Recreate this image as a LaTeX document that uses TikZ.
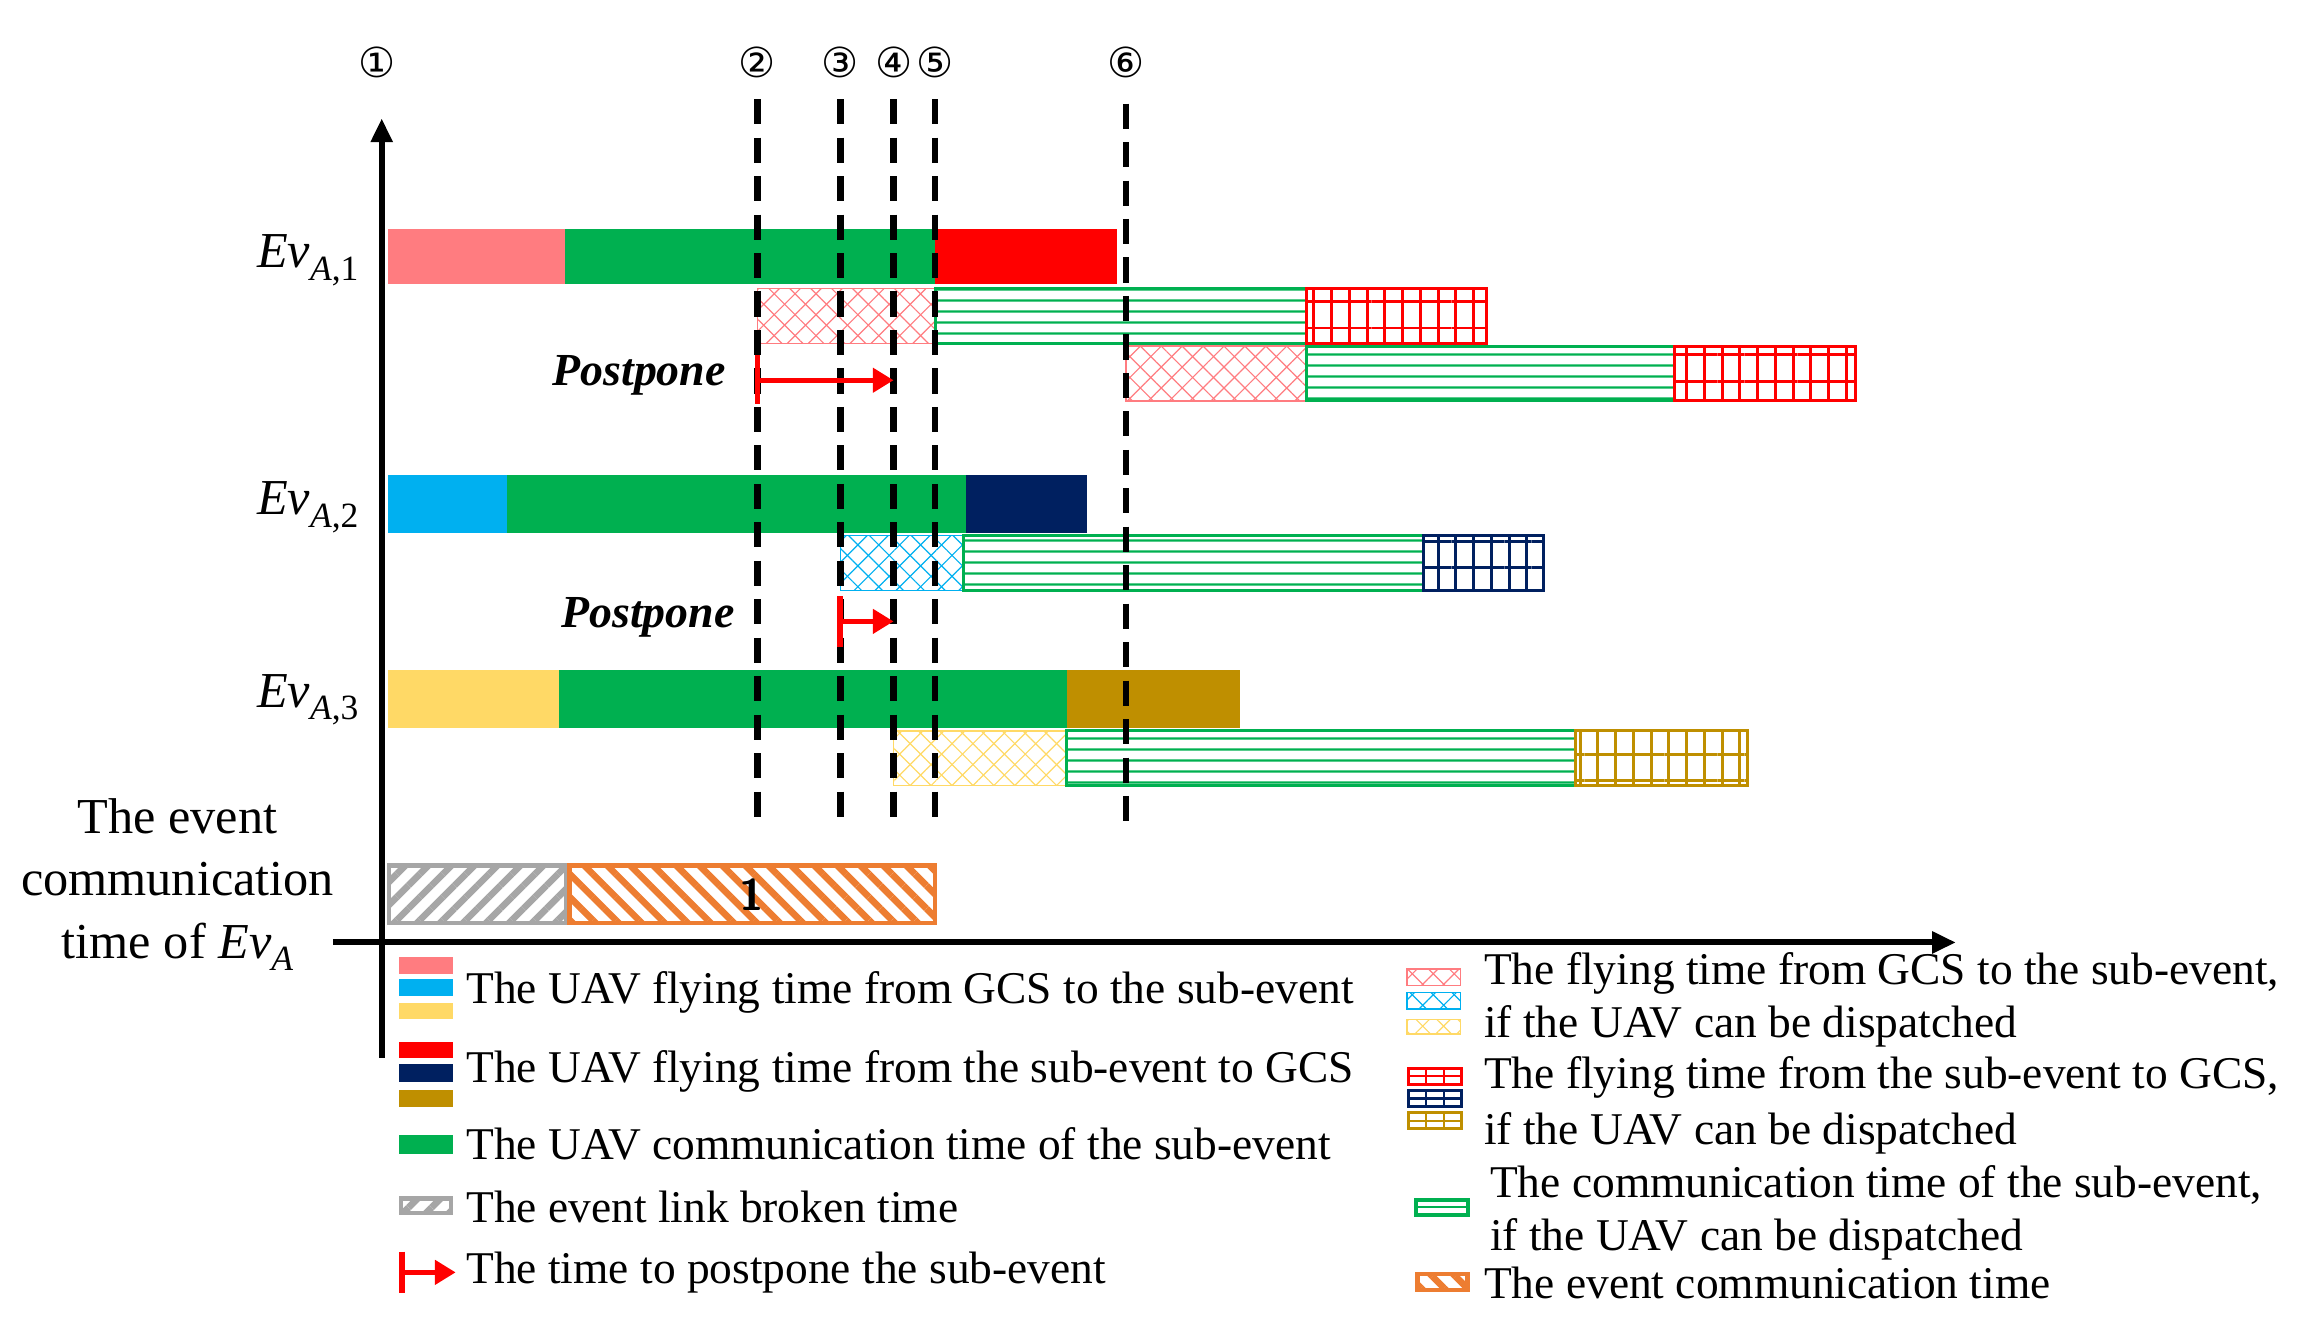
\documentclass[tikz,border=0pt]{standalone}
\usepackage{fontspec}
\setmainfont{Liberation Serif}
\newfontfamily\cnfont{DejaVu Sans}
\usetikzlibrary{patterns.meta,arrows.meta}
\definecolor{cpink}{HTML}{FF7C80}
\definecolor{cblue}{HTML}{00B0F0}
\definecolor{cyel}{HTML}{FFD966}
\definecolor{cred}{HTML}{FF0000}
\definecolor{cnavy}{HTML}{002060}
\definecolor{cgold}{HTML}{BF8F00}
\definecolor{cgreen}{HTML}{00B050}
\definecolor{cgray}{HTML}{A6A6A6}
\definecolor{corange}{HTML}{ED7D31}
\newcommand\evsub[1]{\textit{Ev}\raisebox{-0.25em}{\fontsize{24}{26}\selectfont\textit{A},#1}}
\newcommand\crossbar[5]{% color x1 x2 y1 y2
  \fill[pattern={Lines[angle=45,distance=10pt,line width=0.8pt]},pattern color=#1] (#2,#4) rectangle (#3,#5);
  \fill[pattern={Lines[angle=-45,distance=10pt,line width=0.8pt]},pattern color=#1] (#2,#4) rectangle (#3,#5);
  \draw[#1,line width=1pt] (#2,#4) rectangle (#3,#5);}
\newcommand\gridbar[5]{%
  \fill[pattern={Lines[angle=0,distance=18pt,line width=2pt]},pattern color=#1] (#2,#4) rectangle (#3,#5);
  \fill[pattern={Lines[angle=90,distance=12pt,line width=2pt]},pattern color=#1] (#2,#4) rectangle (#3,#5);
  \draw[#1,line width=2pt] (#2,#4) rectangle (#3,#5);}
\newcommand\linebar[4]{% x1 x2 y1 y2
  \fill[pattern={Lines[angle=0,distance=7.4pt,line width=1.6pt]},pattern color=cgreen] (#1,#3) rectangle (#2,#4);
  \draw[cgreen,line width=2pt] (#1,#3) rectangle (#2,#4);}
\newcommand\stripebar[6]{% color x1 x2 y1 y2 angle
  \fill[pattern={Lines[angle=#6,distance=11pt,line width=4.5pt]},pattern color=#1] (#2,#4) rectangle (#3,#5);
  \draw[#1,line width=3pt] (#2,#4) rectangle (#3,#5);}
\tikzset{
  vdash/.style={line width=4.5pt,dash pattern=on 17pt off 9pt},
  txt/.style={font=\fontsize{30.7}{34}\selectfont,anchor=west,inner sep=0pt},
  lbl/.style={font=\fontsize{34}{38}\selectfont,inner sep=0pt},
  pp/.style={font=\fontsize{31}{35}\selectfont\bfseries\itshape,inner sep=0pt},
  cn/.style={font=\cnfont\fontsize{28}{32}\selectfont,inner sep=0pt},
  post/.style={cred,line width=3.5pt,-{Triangle[length=14pt,width=16pt]}},
}
\begin{document}
\begin{tikzpicture}[x=1pt,y=-1pt]
\useasboundingbox (0,0) rectangle (1560,905.7);
% circled numbers
\node[cn] (n1) at (255,42) {①};
\node[cn] (n2) at (512,42) {②};
\node[cn] (n3) at (568,42) {③};
\node[cn] (n4) at (604,42) {④};
\node[cn] (n5) at (632,42) {⑤};
\node[cn] (n6) at (761,42) {⑥};
% row 1
\fill[cpink] (262,155) rectangle (382,192);
\fill[cgreen] (382,155) rectangle (632,192);
\fill[cred] (632,155) rectangle (755,192);
\crossbar{cpink}{512}{632}{195}{232}
\linebar{632}{883}{195}{232}
\gridbar{cred}{883}{1005}{195}{232}
\crossbar{cpink}{761}{883}{234}{271}
\linebar{883}{1132}{234}{271}
\gridbar{cred}{1132}{1254}{234}{271}
% row 2
\fill[cblue] (262,321) rectangle (343,360);
\fill[cgreen] (343,321) rectangle (653,360);
\fill[cnavy] (653,321) rectangle (735,360);
\crossbar{cblue}{568}{651}{362}{399}
\linebar{651}{962}{362}{399}
\gridbar{cnavy}{962}{1043}{362}{399}
% row 3
\fill[cyel] (262,453) rectangle (378,492);
\fill[cgreen] (378,453) rectangle (721,492);
\fill[cgold] (721,453) rectangle (838,492);
\crossbar{cyel}{604}{721}{494}{531}
\linebar{721}{1065}{494}{531}
\gridbar{cgold}{1065}{1181}{494}{531}
% event communication row
\stripebar{cgray}{263}{383}{585}{624}{45}
\stripebar{corange}{385}{632}{585}{624}{-45}
\node[font=\sffamily\bfseries\fontsize{30}{34}\selectfont,inner sep=0pt] (one) at (508,605) {1};
% dashed lines
\foreach \x/\n in {512/a,568/b,604/c,632/d}{
  \coordinate (t\n) at (\x,67); \coordinate (b\n) at (\x,555);
  \draw[vdash] (t\n) -- (b\n);}
\coordinate (te) at (761,70); \coordinate (be) at (761,558);
\draw[vdash] (te) -- (be);
% postpone arrows
\coordinate (p1s) at (512,257); \coordinate (p1e) at (604,257);
\draw[post] (p1s) -- (p1e);
\draw[cred,line width=4pt] (512,240) -- (512,273);
\node[pp] (pp1) at (432,254) {Postpone};
\coordinate (p2s) at (568,420); \coordinate (p2e) at (604,420);
\draw[post] (p2s) -- (p2e);
\draw[cred,line width=4pt] (568,403) -- (568,437);
\node[pp] (pp2) at (438,417) {Postpone};
% axes
\coordinate (yb) at (258,715); \coordinate (yt) at (258,80);
\draw[line width=4pt,-{Triangle[length=16pt,width=14pt]}] (yb) -- (yt);
\coordinate (xl) at (225,637); \coordinate (xr) at (1322,637);
\draw[line width=4pt,-{Triangle[length=16pt,width=14pt]}] (xl) -- (xr);
% row labels
\node[lbl] (e1) at (208,176) {\evsub{1}};
\node[lbl] (e2) at (208,343) {\evsub{2}};
\node[lbl] (e3) at (208,473) {\evsub{3}};
\node[font=\fontsize{34}{42}\selectfont,align=center,inner sep=0pt] (ect) at (120,598) {The event\\communication\\time of \textit{Ev}\raisebox{-0.25em}{\fontsize{24}{26}\selectfont\textit{A}}};
% left legend
\fill[cpink] (270,647) rectangle (306,658);
\fill[cblue] (270,662) rectangle (306,673);
\fill[cyel] (270,678) rectangle (306,689);
\node[txt] (l1) at (315,671) {The UAV flying time from GCS to the sub-event};
\fill[cred] (270,704) rectangle (306,715);
\fill[cnavy] (270,719) rectangle (306,731);
\fill[cgold] (270,737) rectangle (306,748);
\node[txt] (l2) at (315,724) {The UAV flying time from the sub-event to GCS};
\fill[cgreen] (270,767) rectangle (306,780);
\node[txt] (l3) at (315,773) {The UAV communication time of the sub-event};
\stripebar{cgray}{271}{305}{810}{820}{45}
\node[txt] (l4) at (315,816) {The event link broken time};
\coordinate (la) at (272,860); \coordinate (lb) at (308,860);
\draw[post] (la) -- (lb);
\draw[cred,line width=4pt] (272,846) -- (272,874);
\node[txt] (l5) at (315,860) {The time to postpone the sub-event};
% right legend
\crossbar{cpink}{951}{987}{655}{666}
\crossbar{cblue}{951}{987}{671}{682}
\crossbar{cyel}{951}{987}{689}{699}
\node[txt] (r1) at (1003,658) {The flying time from GCS to the sub-event,};
\node[txt] (r1b) at (1003,694) {if the UAV can be dispatched};
\draw[cred,line width=2pt] (952,722) rectangle (988,733); \draw[cred,line width=1.5pt] (952,727.5)--(988,727.5) (964,722)--(964,733) (976,722)--(976,733);
\draw[cnavy,line width=2pt] (952,737) rectangle (988,748); \draw[cnavy,line width=1.5pt] (952,742.5)--(988,742.5) (964,737)--(964,748) (976,737)--(976,748);
\draw[cgold,line width=2pt] (952,752) rectangle (988,763); \draw[cgold,line width=1.5pt] (952,757.5)--(988,757.5) (964,752)--(964,763) (976,752)--(976,763);
\node[txt] (r2) at (1003,728) {The flying time from the sub-event to GCS,};
\node[txt] (r2b) at (1003,766) {if the UAV can be dispatched};
\draw[cgreen,line width=2.5pt] (957,811) rectangle (992,821); \draw[cgreen,line width=1.5pt] (957,816)--(992,816);
\node[txt] (r3) at (1007,801) {The communication time of the sub-event,};
\node[txt] (r3b) at (1007,838) {if the UAV can be dispatched};
\stripebar{corange}{958}{992}{861}{872}{-45}
\node[txt] (r4) at (1003,867) {The event communication time};
\end{tikzpicture}
\end{document}
